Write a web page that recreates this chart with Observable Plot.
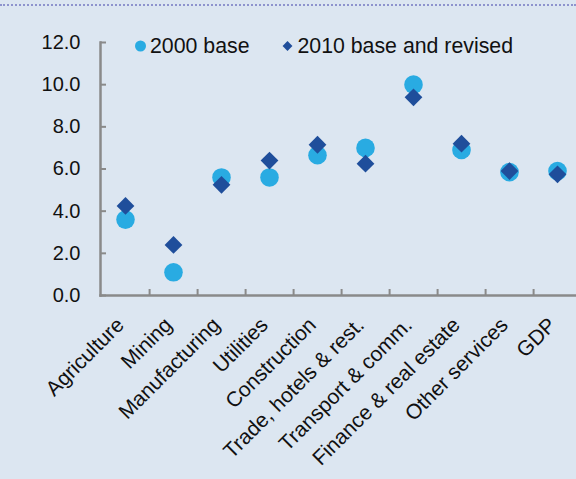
<!DOCTYPE html>
<html>
<head>
<meta charset="utf-8">
<script src="https://cdn.jsdelivr.net/npm/d3@7"></script>
<script src="https://cdn.jsdelivr.net/npm/@observablehq/plot@0.6"></script>
<style>
  html, body { margin: 0; padding: 0; background: #dce6f1; }
  #wrap { position: relative; width: 576px; height: 479px; overflow: hidden; background: #dce6f1;
          font-family: "Liberation Sans", Arial, sans-serif; }
  #topline { position: absolute; top: 4px; left: 0; width: 576px; border-top: 2px dotted #8e93cd; }
  #legend { position: absolute; top: 34px; left: 134px; font-size: 21.3px; line-height: 24px; color: #111;
            display: flex; align-items: center; white-space: nowrap; }
  #legend .item { display: flex; align-items: center; }
  #legend svg { display: block; }
</style>
</head>
<body>
<div id="wrap">
  <div id="topline"></div>
  <div id="chart"></div>
  <div id="legend"></div>
</div>
<script>
const categories = ["Agriculture", "Mining", "Manufacturing", "Utilities", "Construction",
  "Trade, hotels & rest.", "Transport & comm.", "Finance & real estate", "Other services", "GDP"];
const base2000 = [3.6, 1.1, 5.6, 5.6, 6.65, 7.0, 10.0, 6.9, 5.85, 5.9];
const base2010 = [4.25, 2.4, 5.25, 6.4, 7.15, 6.25, 9.4, 7.2, 5.9, 5.75];
const yTicks = [0, 2, 4, 6, 8, 10, 12];
const seriesNames = ["2000 base", "2010 base and revised"];
const colors = ["#29abe2", "#1f4e9b"];

const d2000 = categories.map((c, i) => ({category: c, value: base2000[i]}));
const d2010 = categories.map((c, i) => ({category: c, value: base2010[i]}));

const W = 576, H = 479, mL = 100, mR = -6, mT = 42, mB = 184;
const bw = (W - mR - mL) / categories.length;
const axisColor = "#8a8a8a";

const chart = Plot.plot({
  width: W, height: H,
  marginLeft: mL, marginRight: mR, marginTop: mT, marginBottom: mB,
  style: {background: "transparent", fontFamily: "'Liberation Sans', Arial, sans-serif", color: "#111", overflow: "visible"},
  x: {type: "band", domain: categories, padding: 0},
  y: {domain: [0, 12]},
  marks: [
    Plot.frame({anchor: "left", stroke: axisColor, strokeWidth: 2.5}),
    Plot.frame({anchor: "bottom", stroke: axisColor, strokeWidth: 2.5}),
    // inward y ticks
    Plot.axisY({ticks: yTicks, tickSize: 6, dx: 6, tickFormat: () => "", label: null, stroke: axisColor, strokeWidth: 2}),
    // y labels
    Plot.axisY({ticks: yTicks, tickSize: 0, tickPadding: 20, tickFormat: d => d.toFixed(1), label: null, fontSize: 20, fill: "#111"}),
    // inward x ticks at category boundaries
    Plot.axisX({tickSize: 6, dy: -6, dx: bw / 2, tickFormat: () => "", label: null, stroke: axisColor, strokeWidth: 2}),
    // rotated category labels
    Plot.axisX({tickSize: 0, tickPadding: 26, tickRotate: -45, label: null, fontSize: 21, fill: "#111", dx: -5}),
    Plot.dot(d2000, {x: "category", y: "value", r: 9.3, fill: colors[0], symbol: "circle"}),
    Plot.dot(d2010, {x: "category", y: "value", r: 8, fill: colors[1], symbol: "diamond2"})
  ]
});
document.getElementById("chart").appendChild(chart);

// legend
const legend = document.getElementById("legend");
const symbols = [d3.symbolCircle, d3.symbolDiamond2];
const symSizes = [95, 62];
seriesNames.forEach((name, i) => {
  const item = document.createElement("div");
  item.className = "item";
  if (i > 0) item.style.marginLeft = "32px";
  const s = d3.create("svg").attr("width", 13).attr("height", 14);
  s.append("path").attr("transform", "translate(6.5,7)")
    .attr("d", d3.symbol(symbols[i], symSizes[i])()).attr("fill", colors[i]);
  item.appendChild(s.node());
  const t = document.createElement("span");
  t.textContent = name;
  t.style.marginLeft = "3px";
  item.appendChild(t);
  legend.appendChild(item);
});
</script>
</body>
</html>
